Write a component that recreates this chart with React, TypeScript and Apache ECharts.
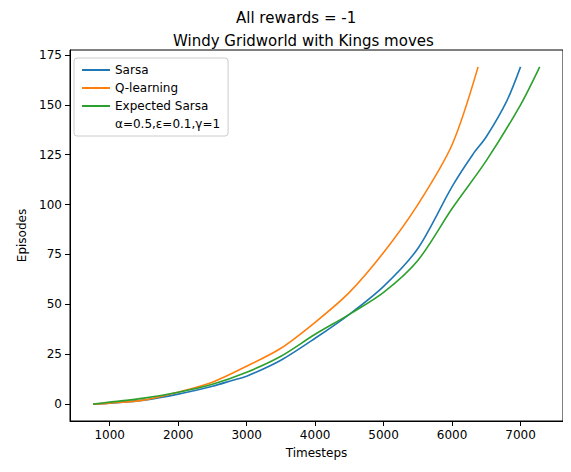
import React, { useEffect, useRef } from "react";
import * as echarts from "echarts";

const sarsaX = [760, 1000, 1500, 2000, 2500, 2800, 3000, 3500, 4000, 4500, 5000, 5500, 6000, 6300, 6500, 6800, 7000];
const sarsaY = [0, 0.5, 2, 5, 9, 12, 14, 22, 33, 45, 59, 78, 109, 125, 134, 152, 169];
const qX = [760, 1000, 1500, 2000, 2500, 3000, 3500, 4000, 4500, 5000, 5500, 6000, 6380];
const qY = [0, 0.5, 2, 6, 11, 19, 28, 41, 56, 76, 100, 130, 169];
const esX = [760, 1000, 1500, 2000, 2500, 3000, 3500, 4000, 4500, 5000, 5500, 6000, 6500, 7000, 7280];
const esY = [0, 1, 3, 6, 10, 16, 24, 35, 45, 56, 72, 98, 122, 150, 169];
const xTicks = [1000, 2000, 3000, 4000, 5000, 6000, 7000];
const yTicks = [0, 25, 50, 75, 100, 125, 150, 175];

const zip = (xs: number[], ys: number[]) => xs.map((x, i) => [x, ys[i]]);
const F = "DejaVu Sans";

export default function App() {
  const ref = useRef<HTMLDivElement>(null);
  useEffect(() => {
    const c = echarts.init(ref.current!, null, { renderer: "svg" });
    const line = (name: string, color: string, d: number[][]) => ({
      name, type: "line", data: d, showSymbol: false, symbol: "none", smooth: 0.3,
      lineStyle: { color, width: 1.6 }, itemStyle: { color },
    });
    c.setOption({
      animation: false,
      textStyle: { fontFamily: F },
      title: [
        { text: "All rewards = -1", left: 223, top: -3, textStyle: { fontSize: 15, fontWeight: "normal", fontFamily: F, color: "#000" } },
        { text: "Windy Gridworld with Kings moves", left: 160, top: 20, textStyle: { fontSize: 15, fontWeight: "normal", fontFamily: F, color: "#000" } },
      ],
      grid: { left: 58, right: 0, top: 42, bottom: 40, show: true, borderColor: "#000", borderWidth: 1 },
      legend: {
        left: 66, top: 50, orient: "vertical", itemGap: 6, itemWidth: 28, itemHeight: 2,
        borderColor: "#ccc", borderWidth: 1, borderRadius: 3, padding: [6, 8],
        textStyle: { fontSize: 12, fontFamily: F, color: "#000" },
        data: [
          { name: "Sarsa", icon: "rect" }, { name: "Q-learning", icon: "rect" },
          { name: "Expected Sarsa", icon: "rect" }, { name: "α=0.5,ε=0.1,γ=1", icon: "none" },
        ],
      },
      xAxis: {
        type: "value", min: 420, max: 7620, name: "Timesteps", nameLocation: "middle", nameGap: 26,
        nameTextStyle: { fontSize: 12, color: "#000" },
        axisLine: { onZero: false, lineStyle: { color: "#000" } },
        axisTick: { show: true, customValues: xTicks, lineStyle: { color: "#000" } },
        splitLine: { show: false },
        axisLabel: { color: "#000", fontSize: 12, customValues: xTicks, formatter: (v: number) => String(v) },
      },
      yAxis: {
        type: "value", min: -8.45, max: 177.45, name: "Episodes", nameLocation: "middle", nameGap: 42,
        nameTextStyle: { fontSize: 12, color: "#000" },
        axisLine: { show: true, onZero: false, lineStyle: { color: "#000" } },
        axisTick: { show: true, customValues: yTicks, lineStyle: { color: "#000" } },
        splitLine: { show: false },
        axisLabel: { color: "#000", fontSize: 12, customValues: yTicks, formatter: (v: number) => String(v) },
      },
      series: [
        line("Sarsa", "#1f77b4", zip(sarsaX, sarsaY)),
        line("Q-learning", "#ff7f0e", zip(qX, qY)),
        line("Expected Sarsa", "#2ca02c", zip(esX, esY)),
        { name: "α=0.5,ε=0.1,γ=1", type: "line", data: [], itemStyle: { color: "rgba(0,0,0,0)" } },
      ],
    });
    return () => c.dispose();
  }, []);
  return <div ref={ref} style={{ width: 555, height: 456 }} />;
}
